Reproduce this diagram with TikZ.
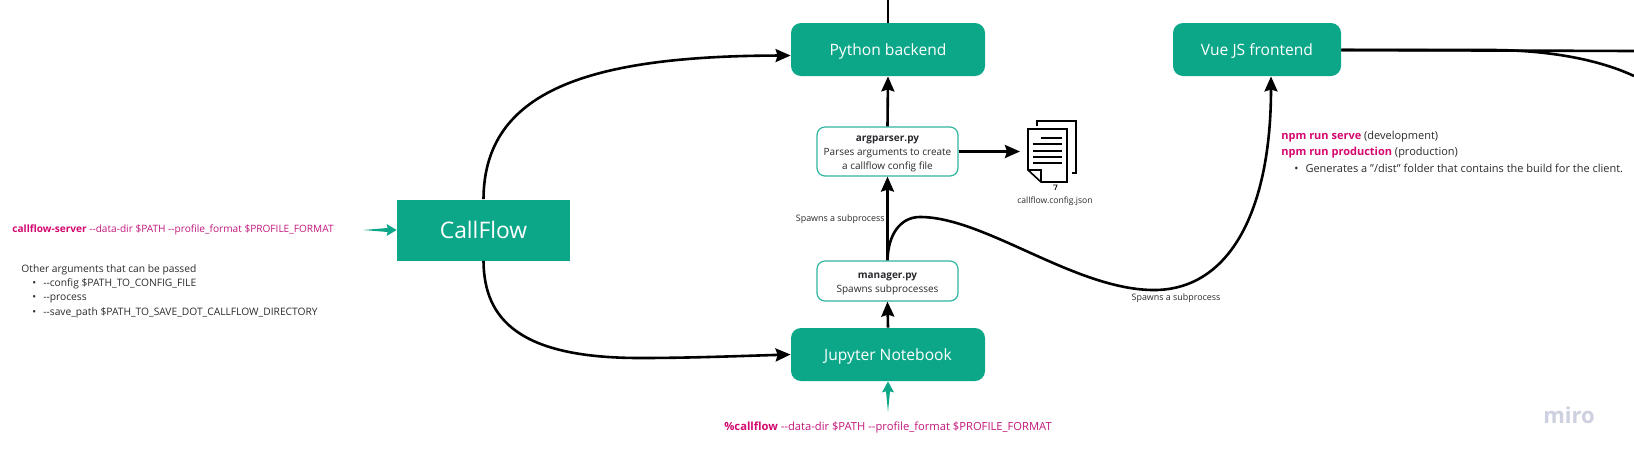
\documentclass[tikz,border=0pt]{standalone}
\usepackage{fontspec}
\setmainfont{Open Sans}
\usetikzlibrary{arrows.meta,calc}
\definecolor{tealbox}{HTML}{0CA789}
\definecolor{tealline}{HTML}{2FB5A0}
\definecolor{magent}{HTML}{C2177C}
\definecolor{magbold}{HTML}{D4086F}
\definecolor{ink}{HTML}{2A2A2E}
\definecolor{mirogray}{HTML}{CDD0DE}
\tikzset{
 px/.style={x=0.5pt,y=-0.5pt},
 solidbox/.style={fill=tealbox,draw=none,rounded corners=5pt,text=white,inner sep=0pt,text height=5.9pt,text depth=0pt,font=\fontsize{7.8}{10}\selectfont},
 outlinebox/.style={fill=white,draw=tealline,line width=0.6pt,rounded corners=4pt,text=ink,inner sep=0pt,align=center,font=\fontsize{5}{7}\selectfont},
 flow/.style={draw=black,line width=1.3pt,-{Stealth[length=7.5pt,width=6.5pt,inset=1pt]}},
 plainflow/.style={draw=black,line width=1.3pt},
 tealflow/.style={fill=tealbox,draw=none},
 small/.style={inner sep=0pt,text=ink,font=\fontsize{4.45}{5}\selectfont},
 tiny/.style={inner sep=0pt,text=ink,font=\fontsize{4.3}{5}\selectfont},
 body/.style={inner sep=0pt,anchor=west,text=ink,font=\fontsize{5.13}{7}\selectfont},
 bodylg/.style={inner sep=0pt,anchor=west,text=ink,font=\fontsize{5.5}{7}\selectfont},
 cmd/.style={inner sep=0pt,anchor=west,text=magent,font=\fontsize{5.05}{7}\selectfont},
 cmdlg/.style={inner sep=0pt,anchor=west,text=magent,font=\fontsize{5.6}{7}\selectfont},
}
\newcommand{\solidnode}[6]{\node[solidbox,minimum width=#4*0.5pt,minimum height=#5*0.5pt] (#1) at (#2,#3) {#6};}
\newcommand{\firstline}{\rule{0pt}{5.5pt}}
\newcommand{\dd}{-{}-}
\begin{document}
\begin{tikzpicture}[px]
\useasboundingbox (0,0) rectangle (1634,462);
\node[solidbox,rounded corners=0pt,minimum width=86.5pt,minimum height=30.5pt,text height=8.1pt,font=\fontsize{11.4}{13}\selectfont] (cf) at (483.5,230) {CallFlow};
\solidnode{py}{888}{49.5}{194}{53}{Python backend}
\solidnode{vue}{1257}{49.5}{168}{53}{Vue JS frontend}
\solidnode{jn}{888}{354.5}{194}{53}{Jupyter Notebook}
\node[outlinebox,minimum width=70.5pt,minimum height=24.5pt] (ap) at (887.5,151.5) {\firstline\textbf{argparser.py}\\Parses arguments to create\\a callflow config file};
\node[outlinebox,minimum width=70.5pt,minimum height=20pt] (mg) at (887.5,281) {\firstline\textbf{manager.py}\\Spawns subprocesses};
% top stub
\coordinate (topend) at (py.north |- 0,0);
\draw[plainflow] (py.north) -- (topend);
% backbone
\draw[flow] (jn.north) -- (mg.south);
\draw[flow] (mg.north) -- (ap.south);
\draw[flow] (ap.north) -- (py.south);
% doc icon
\coordinate (doc) at (1020,151.5);
\draw[flow] (ap.east) -- (doc);
\draw[line width=0.8pt,line join=miter] (1037,126) -- (1037,121) -- (1076,121) -- (1076,173) -- (1072,173);
\draw[line width=0.8pt,fill=white] (1028,129) -- (1067,129) -- (1067,182) -- (1041,182) -- (1028,170) -- cycle;
\draw[line width=0.8pt] (1041,182) -- (1041,170) -- (1028,170);
\foreach \y/\xa/\xb in {138/1041/1062,144/1033/1062,151/1033/1062,157/1033/1062,163/1033/1062}{\draw[line width=0.8pt] (\xa,\y) -- (\xb,\y);}
\draw[line width=0.4pt] (1053,185) -- (1057,185) -- (1055,190);
\node[tiny] (doclabel) at (1055,201) {callflow.config.json};
% curves from CallFlow
\draw[flow] (cf.north) .. controls (484,90) and (590,56) .. ($(py.west)+(0,6)$);
\draw[flow] (cf.south) .. controls (484,320) and (520,358) .. (640,358) .. controls (690,358) and (740,356) .. (jn.west);
% spawn curve
\draw[flow] (mg.north) .. controls (888,235) and (900,217) .. (920,217)
  .. controls (985,217) and (1075,290) .. (1154,290)
  .. controls (1230,290) and (1271,210) .. (1271,0 |- vue.south);
% right exits
\coordinate (r1) at (1634,51);
\coordinate (r2) at (1634,76);
\draw[plainflow] (vue.east |- 0,50) -- (r1);
\draw[plainflow] (vue.east |- 0,50) -- (1490,50) .. controls (1550,50) and (1600,60) .. (r2);
% teal inputs
\coordinate (cfin) at (363,230);
\fill[tealflow] (cfin) -- ($(cf.west)+(-9,-2)$) -- ($(cf.west)+(-10,-6)$) -- (cf.west) -- ($(cf.west)+(-10,6)$) -- ($(cf.west)+(-9,2)$) -- cycle;
\coordinate (jnin) at (888,412);
\fill[tealflow] (jnin) -- ($(jn.south)+(-2,10)$) -- ($(jn.south)+(-6,11)$) -- (jn.south) -- ($(jn.south)+(6,11)$) -- ($(jn.south)+(2,10)$) -- cycle;
% texts
\node[cmd] (cmd1) at (12,230) {\textcolor{magbold}{\textbf{callflow-server}} \dd data-dir \$PATH \dd profile\_format \$PROFILE\_FORMAT};
\node[body] (oth) at (21,269.5) {Other arguments that can be passed};
\node[body] (b1) at (32,284) {\textbullet\hspace{3.5pt}\dd config \$PATH\_TO\_CONFIG\_FILE};
\node[body] (b2) at (32,299) {\textbullet\hspace{3.5pt}\dd process};
\node[body] (b3) at (32,313) {\textbullet\hspace{3.5pt}\dd save\_path \$PATH\_TO\_SAVE\_DOT\_CALLFLOW\_DIRECTORY};
\node[cmdlg] (cmd2) at (724,428) {\textcolor{magbold}{\textbf{\%callflow}} \dd data-dir \$PATH \dd profile\_format \$PROFILE\_FORMAT};
\node[small,anchor=east] (sp1) at (885,219) {Spawns a subprocess};
\node[small] (sp2) at (1176,298) {Spawns a subprocess};
\node[bodylg] (n1) at (1281,137) {\textcolor{magbold}{\textbf{npm run serve}} (development)};
\node[bodylg] (n2) at (1281,152.5) {\textcolor{magbold}{\textbf{npm run production}} (production)};
\node[bodylg] (n3) at (1294,168) {\textbullet\hspace{3.5pt}Generates a "/dist" folder that contains the build for the client.};
\node[inner sep=0pt,text=mirogray,font=\bfseries\fontsize{11}{13}\selectfont] (miro) at (1569,415) {miro};
\end{tikzpicture}
\end{document}
